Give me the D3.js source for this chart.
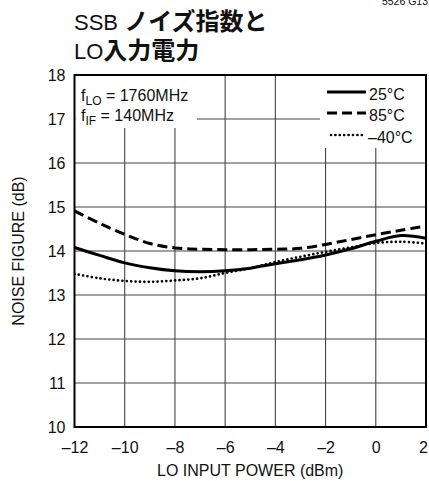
<!DOCTYPE html>
<html>
<head>
<meta charset="utf-8">
<script src="https://cdn.jsdelivr.net/npm/d3@7"></script>
<style>
  html, body { margin: 0; padding: 0; background: #fff; }
  svg { display: block; }
  text { font-family: "Liberation Sans", Arial, sans-serif; fill: #111; }
  .jp { font-family: "Noto Sans CJK JP", sans-serif; font-weight: 700; }
</style>
</head>
<body>
<svg id="chart" width="429" height="481"></svg>
<script>
// LO input power (dBm)
const loPower = [-12, -11, -10, -9, -8, -7, -6, -5, -4, -3, -2, -1, 0, 1, 2];
// SSB noise figure (dB) at each temperature
const nf25 = [14.08, 13.90, 13.73, 13.62, 13.55, 13.53, 13.55, 13.61, 13.71, 13.80, 13.91, 14.05, 14.22, 14.35, 14.29];
const nf85 = [14.91, 14.63, 14.38, 14.17, 14.07, 14.04, 14.03, 14.03, 14.04, 14.06, 14.15, 14.26, 14.37, 14.47, 14.57];
const nfMinus40 = [13.48, 13.38, 13.32, 13.30, 13.33, 13.38, 13.50, 13.61, 13.75, 13.87, 13.98, 14.08, 14.18, 14.21, 14.17];

const xTicks = [-12, -10, -8, -6, -4, -2, 0, 2];
const yTicks = [10, 11, 12, 13, 14, 15, 16, 17, 18];
const seriesNames = ["25°C", "85°C", "–40°C"];

const fmt = v => (v < 0 ? "–" + Math.abs(v) : String(v));

const svg = d3.select("#chart");
const plot = { left: 74.5, right: 426, top: 75, bottom: 427 };

const x = d3.scaleLinear().domain([-12, 2]).range([plot.left, plot.right]);
const y = d3.scaleLinear().domain([10, 18]).range([plot.bottom, plot.top]);

// part number
svg.append("text").attr("x", 428).attr("y", 5).attr("text-anchor", "end")
  .attr("font-size", 10.5).text("5526 G13");

// title
const t1 = svg.append("text").attr("x", 74).attr("y", 29.5);
t1.append("tspan").attr("font-size", 22).text("SSB ");
t1.append("tspan").attr("class", "jp").attr("font-size", 24).text("ノイズ指数と");
const t2 = svg.append("text").attr("x", 74).attr("y", 58.5);
t2.append("tspan").attr("font-size", 22).text("LO");
t2.append("tspan").attr("class", "jp").attr("font-size", 24).text("入力電力");

// grid
const grid = svg.append("g").attr("stroke", "#444").attr("stroke-width", 1.1);
grid.selectAll("line.v").data(xTicks.slice(1, -1)).join("line")
  .attr("x1", d => x(d)).attr("x2", d => x(d))
  .attr("y1", plot.top).attr("y2", plot.bottom);
grid.selectAll("line.h").data(yTicks.slice(1, -1)).join("line")
  .attr("x1", plot.left).attr("x2", plot.right)
  .attr("y1", d => y(d)).attr("y2", d => y(d));

// white panels behind the conditions note and the legend
svg.append("rect").attr("x", plot.left + 1).attr("y", plot.top + 1)
  .attr("width", 197 - plot.left - 1).attr("height", 128 - plot.top - 1).attr("fill", "#fff");
svg.append("rect").attr("x", 320).attr("y", plot.top + 1)
  .attr("width", plot.right - 320 - 1).attr("height", 148 - plot.top - 1).attr("fill", "#fff");

// curves
svg.append("clipPath").attr("id", "plotclip").append("rect")
  .attr("x", plot.left).attr("y", plot.top)
  .attr("width", plot.right - plot.left).attr("height", plot.bottom - plot.top);

const line = d3.line().x(d => x(d[0])).y(d => y(d[1])).curve(d3.curveCatmullRom.alpha(0.5));
const styles = [
  { data: nf25, dash: null, width: 3, cap: "butt" },
  { data: nf85, dash: "10,5", width: 3, cap: "butt" },
  { data: nfMinus40, dash: "0,4.4", width: 2.7, cap: "round" }
];
const curves = svg.append("g").attr("clip-path", "url(#plotclip)");
styles.forEach(s => {
  curves.append("path")
    .attr("d", line(loPower.map((p, i) => [p, s.data[i]])))
    .attr("fill", "none").attr("stroke", "#000")
    .attr("stroke-width", s.width)
    .attr("stroke-linecap", s.cap)
    .attr("stroke-dasharray", s.dash);
});

// frame
svg.append("rect").attr("x", plot.left).attr("y", plot.top)
  .attr("width", plot.right - plot.left).attr("height", plot.bottom - plot.top)
  .attr("fill", "none").attr("stroke", "#000").attr("stroke-width", 2);

// axes labels
const xAxis = d3.axisBottom(x).tickValues(xTicks).tickFormat(fmt).tickSize(0).tickPadding(0);
const gx = svg.append("g").attr("transform", `translate(0,${plot.bottom})`).call(xAxis);
gx.select(".domain").remove();
gx.selectAll("text").attr("font-size", 16).attr("fill", "#111").attr("dy", null).attr("y", 26)
  .attr("font-family", "Liberation Sans, Arial, sans-serif")
  .attr("dx", d => (d === 2 ? -3 : 0));

const yAxis = d3.axisLeft(y).tickValues(yTicks).tickFormat(fmt).tickSize(0).tickPadding(0);
const gy = svg.append("g").attr("transform", `translate(${plot.left},0)`).call(yAxis);
gy.select(".domain").remove();
gy.selectAll("text").attr("font-size", 16).attr("fill", "#111").attr("x", -9).attr("dy", "0.36em")
  .attr("font-family", "Liberation Sans, Arial, sans-serif");

svg.append("text").attr("x", (plot.left + plot.right) / 2).attr("y", 476)
  .attr("text-anchor", "middle").attr("font-size", 16).text("LO INPUT POWER (dBm)");
svg.append("text").attr("transform", `translate(24,${(plot.top + plot.bottom) / 2}) rotate(-90)`)
  .attr("text-anchor", "middle").attr("font-size", 16).text("NOISE FIGURE (dB)");

// conditions
const c1 = svg.append("text").attr("x", 81).attr("y", 101).attr("font-size", 16);
c1.append("tspan").text("f");
c1.append("tspan").attr("font-size", 12).attr("dy", 4).text("LO");
c1.append("tspan").attr("dy", -4).text(" = 1760MHz");
const c2 = svg.append("text").attr("x", 81).attr("y", 121).attr("font-size", 16);
c2.append("tspan").text("f");
c2.append("tspan").attr("font-size", 12).attr("dy", 4).text("IF");
c2.append("tspan").attr("dy", -4).text(" = 140MHz");

// legend
const legendY = [92, 113, 135];
const legendX0 = [327, 327, 331];
styles.forEach((s, i) => {
  svg.append("line").attr("x1", legendX0[i]).attr("x2", 366)
    .attr("y1", legendY[i]).attr("y2", legendY[i])
    .attr("stroke", "#000").attr("stroke-width", s.width)
    .attr("stroke-linecap", s.cap).attr("stroke-dasharray", s.dash);
  svg.append("text").attr("x", i === 2 ? 368 : 369).attr("y", legendY[i] + 8)
    .attr("font-size", 16).text(seriesNames[i]);
});
</script>
</body>
</html>
